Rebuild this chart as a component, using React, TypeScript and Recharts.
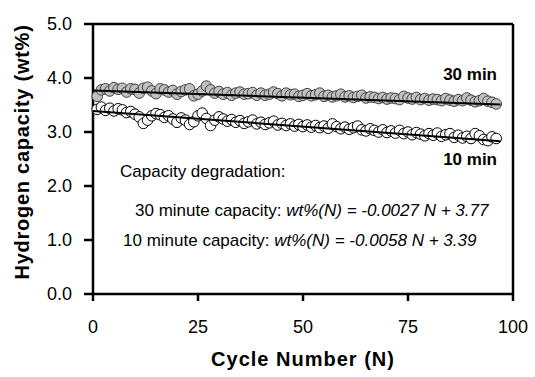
import { ScatterChart, Scatter, XAxis, YAxis, ReferenceLine, Label } from 'recharts';

// cycle numbers 1..96
const cycles = Array.from({ length: 96 }, (_, i) => i + 1);

// 30 minute capacity (wt%)
const cap30 = [
  3.66, 3.78, 3.80, 3.76, 3.82, 3.79, 3.81, 3.74, 3.80, 3.79,
  3.72, 3.81, 3.83, 3.76, 3.71, 3.80, 3.78, 3.74, 3.77, 3.70,
  3.75, 3.78, 3.80, 3.67, 3.70, 3.76, 3.85, 3.78, 3.72, 3.75,
  3.70, 3.73, 3.68, 3.72, 3.74, 3.70, 3.71, 3.73, 3.68, 3.72,
  3.68, 3.70, 3.74, 3.71, 3.67, 3.72, 3.69, 3.70, 3.66, 3.68,
  3.71, 3.67, 3.69, 3.72, 3.66, 3.68, 3.65, 3.67, 3.70, 3.65,
  3.67, 3.64, 3.66, 3.68, 3.63, 3.65, 3.64, 3.62, 3.64, 3.61,
  3.63, 3.62, 3.60, 3.66, 3.63, 3.61, 3.64, 3.60, 3.62, 3.59,
  3.61, 3.60, 3.58, 3.62, 3.59, 3.57, 3.60, 3.58, 3.63, 3.59,
  3.56, 3.58, 3.62, 3.57, 3.55, 3.52,
];

// 10 minute capacity (wt%)
const cap10 = [
  3.42, 3.46, 3.40, 3.44, 3.39, 3.43, 3.41, 3.36, 3.38, 3.33,
  3.28, 3.16, 3.22, 3.30, 3.34, 3.32, 3.27, 3.30, 3.24, 3.18,
  3.26, 3.22, 3.14, 3.19, 3.30, 3.35, 3.25, 3.12, 3.22, 3.28,
  3.24, 3.20, 3.23, 3.18, 3.21, 3.16, 3.19, 3.22, 3.15, 3.18,
  3.14, 3.17, 3.20, 3.13, 3.16, 3.12, 3.15, 3.11, 3.14, 3.10,
  3.13, 3.09, 3.12, 3.08, 3.11, 3.07, 3.15, 3.10, 3.06, 3.09,
  3.05, 3.08, 3.11, 3.04, 3.02, 3.06, 3.03, 3.00, 3.04, 2.99,
  3.02, 2.98, 3.03, 2.97, 3.00, 2.95, 2.99, 2.96, 2.93, 2.97,
  2.94, 2.98, 2.92, 2.95, 2.97, 2.90, 2.94, 2.89, 2.92, 2.88,
  2.97, 2.93, 2.86, 2.84, 2.91, 2.88,
];

const xTicks = [0, 25, 50, 75, 100];
const yTicks = [0, 1, 2, 3, 4, 5];

// linear fits shown in the annotation
const fit30 = { slope: -0.0027, intercept: 3.77 };
const fit10 = { slope: -0.0058, intercept: 3.39 };
const fitRange = [0, 97];

const data30 = cycles.map((n, i) => ({ n, v: cap30[i] }));
const data10 = cycles.map((n, i) => ({ n, v: cap10[i] }));

const fitSegment = (f: { slope: number; intercept: number }) =>
  fitRange.map((n) => ({ n, v: f.intercept + f.slope * n }));

const FONT = "'Liberation Sans', Arial, sans-serif";

const GrayDot = (p: any) => (
  <circle cx={p.cx} cy={p.cy} r={5.3} fill="#c0c0c0" stroke="#404040" strokeWidth={1} />
);
const OpenDot = (p: any) => (
  <circle cx={p.cx} cy={p.cy} r={5.3} fill="#ffffff" stroke="#000000" strokeWidth={1} />
);
const NoDot = () => <g />;

export default function App() {
  return (
    <div style={{ position: 'absolute', left: 0, top: 0, width: 535, height: 377, background: '#fff' }}>
      <ScatterChart
        width={535}
        height={377}
        margin={{ top: 24, right: 22, bottom: 23, left: 0 }}
        style={{ fontFamily: FONT }}
      >
        <XAxis
          type="number"
          dataKey="n"
          domain={[0, 100]}
          ticks={xTicks}
          height={60}
          stroke="#000"
          strokeWidth={2.5}
          tickSize={7}
          tickMargin={19}
          tick={{ fill: '#000', fontSize: 18 }}
        >
          <Label
            content={() => (
              <text x={303} y={366} textAnchor="middle" fontSize={20} fontWeight="bold" letterSpacing={1} fill="#000">
                Cycle Number (N)
              </text>
            )}
          />
        </XAxis>
        <YAxis
          type="number"
          dataKey="v"
          domain={[0, 5]}
          ticks={yTicks}
          width={93}
          stroke="#000"
          strokeWidth={2.5}
          tickSize={9}
          tickMargin={12}
          tickFormatter={(v: number) => v.toFixed(1)}
          tick={{ fill: '#000', fontSize: 18 }}
        >
          <Label
            content={() => (
              <text
                x={29}
                y={152}
                textAnchor="middle"
                fontSize={20}
                fontWeight="bold"
                letterSpacing={0.75}
                fill="#000"
                transform="rotate(-90, 29, 152)"
              >
                Hydrogen capacity (wt%)
              </text>
            )}
          />
        </YAxis>
        <ReferenceLine y={5} stroke="#000" strokeWidth={2.5} />
        <ReferenceLine x={100} stroke="#000" strokeWidth={2.5} />
        <Scatter data={data30} shape={GrayDot} isAnimationActive={false} />
        <Scatter data={data10} shape={OpenDot} isAnimationActive={false} />
        <Scatter
          data={fitSegment(fit30)}
          shape={NoDot}
          line={{ stroke: '#000', strokeWidth: 2 }}
          isAnimationActive={false}
        />
        <Scatter
          data={fitSegment(fit10)}
          shape={NoDot}
          line={{ stroke: '#000', strokeWidth: 2 }}
          isAnimationActive={false}
        />
        <text x={497} y={80} textAnchor="end" fontSize={17} fontWeight="bold" fill="#000">30 min</text>
        <text x={497} y={165} textAnchor="end" fontSize={17} fontWeight="bold" fill="#000">10 min</text>
        <text x={120} y={177} fontSize={17} fill="#000">Capacity degradation:</text>
        <text x={135} y={216} fontSize={17} fill="#000">
          30 minute capacity: <tspan fontStyle="italic">wt%(N) = -0.0027 N + 3.77</tspan>
        </text>
        <text x={123} y={246} fontSize={17} fill="#000">
          10 minute capacity: <tspan fontStyle="italic">wt%(N) = -0.0058 N + 3.39</tspan>
        </text>
      </ScatterChart>
    </div>
  );
}
